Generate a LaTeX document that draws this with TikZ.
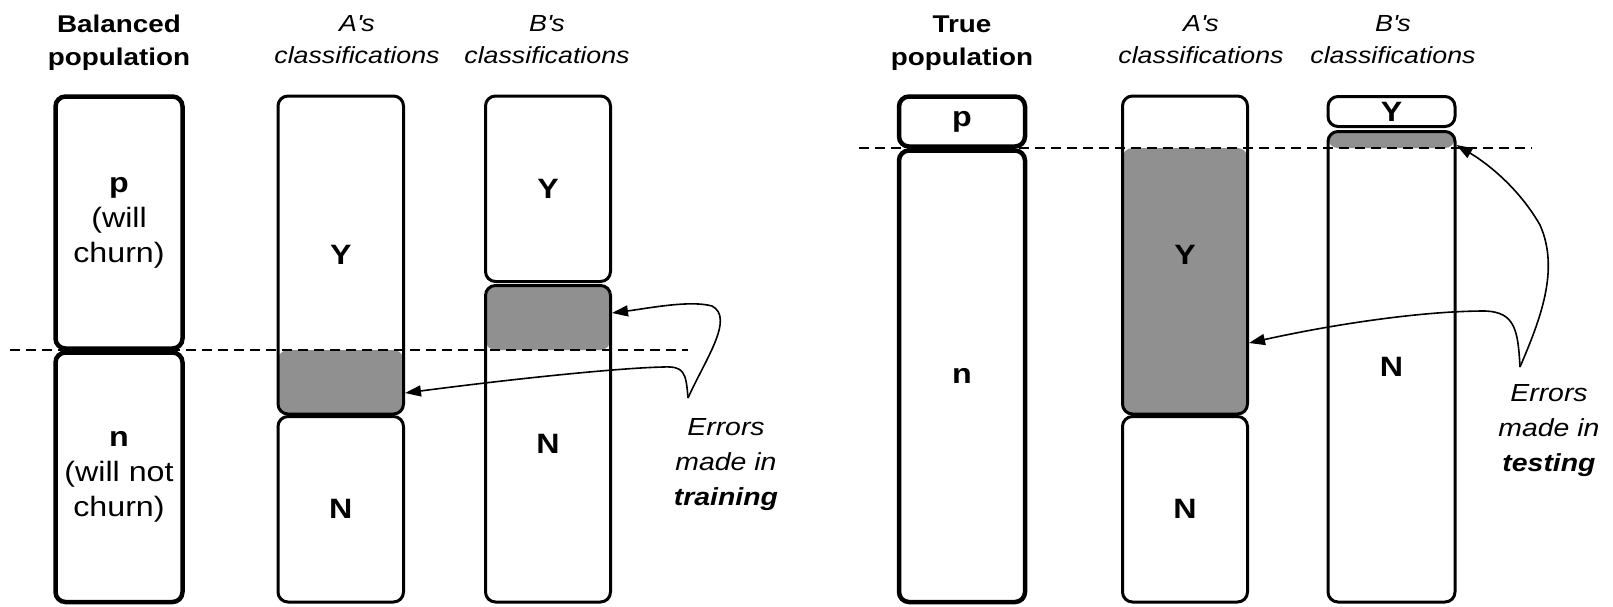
\documentclass[tikz,border=0pt]{standalone}
\usepackage{fontspec}
\setmainfont{Liberation Sans}[FakeStretch=1.15]
\usetikzlibrary{arrows.meta,calc}
\definecolor{errgray}{gray}{0.565}

\begin{document}
\begin{tikzpicture}[x=0.5pt,y=-0.5pt,
  popbox/.style={draw, line width=2.25pt, rounded corners=5pt, inner sep=0pt,
    align=center, font=\fontsize{14}{17.5}\selectfont},
  clsbox/.style={draw, line width=1.5pt, rounded corners=5pt, inner sep=0pt,
    font=\bfseries\fontsize{14}{17.5}\selectfont},
  poptitle/.style={anchor=north, align=center, inner sep=0pt,
    font=\bfseries\fontsize{12.1}{16.5}\selectfont},
  clstitle/.style={anchor=north, align=center, inner sep=0pt,
    font=\itshape\fontsize{11.65}{16}\selectfont},
  note/.style={anchor=north, align=center, inner sep=0pt,
    font=\itshape\fontsize{12.35}{17.5}\selectfont},
  cut/.style={dash pattern=on 5pt off 3pt, line width=0.75pt},
  pointer/.style={-{Triangle[length=8pt,width=5.5pt]}, line width=0.8pt},
  graybelow/.style={path picture={\fill[errgray]
    (path picture bounding box.south west) rectangle (path picture bounding box.east |- #1);}},
  grayabove/.style={path picture={\fill[errgray]
    (path picture bounding box.north west) rectangle (path picture bounding box.east |- #1);}},
]
\useasboundingbox (0,0) rectangle (1613,606);

% threshold lines
\coordinate (cutLa) at (10,350);
\coordinate (cutLb) at (688,350);
\coordinate (cutRa) at (859,148);
\coordinate (cutRb) at (1532,148);

% ---------- training (balanced population) ----------
\node[poptitle] (tBal) at (119,15) {Balanced\\population};
\node[clstitle] (tAL) at (357,15) {A\textquotesingle s\\classifications};
\node[clstitle] (tBL) at (547,15) {B\textquotesingle s\\classifications};

\node[popbox, minimum width=63.5pt, minimum height=126pt] (bpP) at (119,222.5)
  {\textbf{p}\\(will\\churn)};
\node[popbox, minimum width=63.5pt, minimum height=124.75pt] (bpN) at (119,477.25)
  {\textbf{n}\\(will not\\churn)};

\node[clsbox, graybelow=cutLa, minimum width=62.75pt, minimum height=159pt] (aUp) at (340.75,255) {Y};
\node[clsbox, minimum width=62.75pt, minimum height=92.75pt] (aN) at (340.75,509.25) {N};

\node[clsbox, minimum width=62.5pt, minimum height=92.75pt] (bUp) at (548,188.75) {Y};
\node[clsbox, grayabove=cutLa, minimum width=62.5pt, minimum height=158.25pt] (bLo) at (548,443.75) {N};

\draw[cut] (cutLa) -- (cutLb);

\node[note] (eTrain) at (726,418) {Errors\\made in\\\textbf{training}};
\coordinate (sL) at (688,398);
\draw[pointer] (sL) .. controls (705,360) and (735,318) .. (712,306)
  .. controls (690,300) and (650,308) .. (bLo.east |- 0,313);
\draw[pointer] (sL) .. controls (686,372) and (684,366) .. (663,367)
  .. controls (620,368) and (520,378) .. (aUp.east |- 0,393);

% ---------- testing (true population) ----------
\node[poptitle] (tTrue) at (962,15) {True\\population};
\node[clstitle] (tAR) at (1201,15) {A\textquotesingle s\\classifications};
\node[clstitle] (tBR) at (1393,15) {B\textquotesingle s\\classifications};

\node[popbox, minimum width=63pt, minimum height=25pt] (tpP) at (962,121.5) {\textbf{p}};
\node[popbox, minimum width=63pt, minimum height=225.75pt] (tpN) at (962,376.25) {\textbf{n}};

\node[clsbox, graybelow=cutRa, minimum width=62.5pt, minimum height=159pt] (raUp) at (1185,255) {Y};
\node[clsbox, minimum width=62.5pt, minimum height=92.75pt] (raN) at (1185,509.25) {N};

\node[clsbox, minimum width=63.5pt, minimum height=15pt] (rbUp) at (1391.5,111.5) {Y};
\node[clsbox, grayabove=cutRa, minimum width=63.5pt, minimum height=235.25pt] (rbLo) at (1391.5,366.75) {N};

\draw[cut] (cutRa) -- (cutRb);

\node[note] (eTest) at (1549,384) {Errors\\made in\\\textbf{testing}};
\coordinate (sR) at (1520,367);
\draw[pointer] (sR) .. controls (1540,320) and (1560,270) .. (1540,225)
  .. controls (1520,190) and (1490,165) .. (rbLo.east |- 0,145);
\draw[pointer] (sR) .. controls (1518,330) and (1515,312) .. (1485,311)
  .. controls (1420,311) and (1330,325) .. (raUp.east |- 0,343);
\end{tikzpicture}
\end{document}
